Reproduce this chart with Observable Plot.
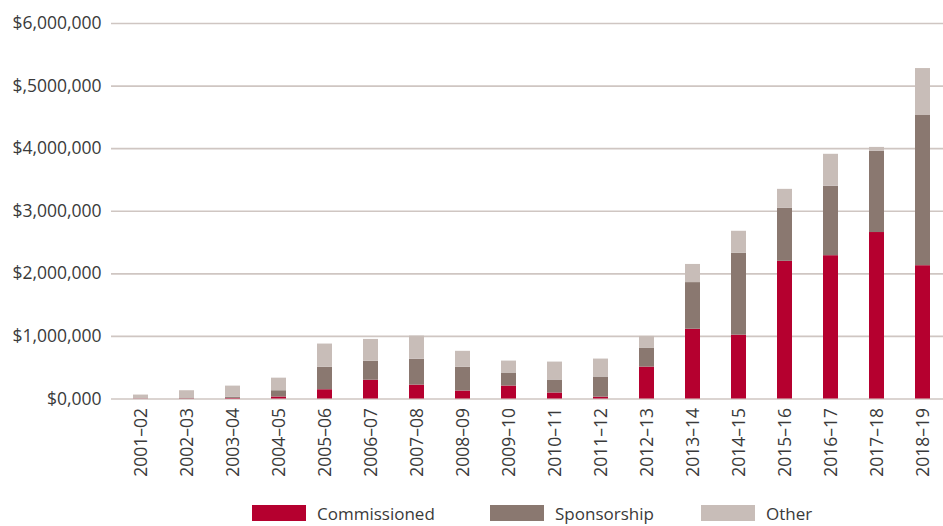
<!DOCTYPE html>
<html>
<head>
<meta charset="utf-8">
<script src="https://cdn.jsdelivr.net/npm/d3@7"></script>
<script src="https://cdn.jsdelivr.net/npm/@observablehq/plot@0.6"></script>
<style>
  html, body { margin: 0; padding: 0; background: #fff; }
  body { width: 943px; height: 526px; overflow: hidden; font-family: "Open Sans", sans-serif; color: #3a3a3a; }
  #legend { position: relative; height: 36px; font-size: 17px; }
  .item { position: absolute; top: 5px; display: flex; align-items: center; height: 36px; }
  .sw { width: 54px; height: 16px; margin-right: 11px; }
</style>
</head>
<body>
<div id="chart"></div>
<div id="legend"></div>
<script>
const years = ["2001–02","2002–03","2003–04","2004–05","2005–06","2006–07","2007–08","2008–09","2009–10","2010–11","2011–12","2012–13","2013–14","2014–15","2015–16","2016–17","2017–18","2018–19"];
const commissioned = [3000, 4000, 10000, 32000, 148000, 300000, 222000, 127000, 207000, 96000, 30000, 510000, 1115000, 1020000, 2200000, 2290000, 2660000, 2130000];
const sponsorship  = [2000, 12000, 20000, 100000, 360000, 303000, 413000, 381000, 208000, 207000, 321000, 304000, 745000, 1310000, 850000, 1110000, 1300000, 2400000];
const other        = [58000, 116000, 176000, 201000, 370000, 349000, 370000, 254000, 191000, 287000, 287000, 186000, 290000, 350000, 300000, 510000, 60000, 750000];
const seriesNames = ["Commissioned", "Sponsorship", "Other"];
const seriesColors = ["#b5002f", "#8a7870", "#c8bdb8"];
const yTicks = [0, 1000000, 2000000, 3000000, 4000000, 5000000, 6000000];
const yTickLabels = ["$0,000", "$1,000,000", "$2,000,000", "$3,000,000", "$4,000,000", "$,5000,000", "$6,000,000"];

const seriesValues = [commissioned, sponsorship, other];
const data = [];
years.forEach((yr, i) => {
  seriesNames.forEach((s, j) => data.push({year: yr, type: s, value: seriesValues[j][i]}));
});

const chart = Plot.plot({
  width: 943,
  height: 490,
  marginTop: 23,
  marginBottom: 91.5,
  marginLeft: 111,
  marginRight: 0,
  style: {fontFamily: "Open Sans, sans-serif", fontSize: "17.5px", color: "#3a3a3a", background: "#fff"},
  x: {domain: years, range: [111, 952], paddingInner: 0.68, paddingOuter: 0.343, label: null},
  y: {domain: [0, 6000000], label: null},
  color: {domain: seriesNames, range: seriesColors},
  marks: [
    Plot.ruleY(yTicks, {stroke: "#cfc6c2", strokeWidth: 1.6}),
    Plot.barY(data, {x: "year", y: "value", fill: "type", order: seriesNames}),
    Plot.axisY({ticks: yTicks, tickSize: 0, tickPadding: 10, tickFormat: (d) => yTickLabels[yTicks.indexOf(d)], fill: "#3a3a3a", label: null}),
    Plot.axisX({tickRotate: -90, tickSize: 0, tickPadding: 9, fill: "#3a3a3a", label: null})
  ]
});
document.getElementById("chart").appendChild(chart);

const legendLeft = [252, 490, 701];
const legend = document.getElementById("legend");
seriesNames.forEach((s, i) => {
  const item = document.createElement("div");
  item.className = "item";
  item.style.left = legendLeft[i] + "px";
  const sw = document.createElement("div");
  sw.className = "sw";
  sw.style.background = seriesColors[i];
  const tx = document.createElement("span");
  tx.textContent = s;
  item.appendChild(sw);
  item.appendChild(tx);
  legend.appendChild(item);
});
</script>
</body>
</html>
